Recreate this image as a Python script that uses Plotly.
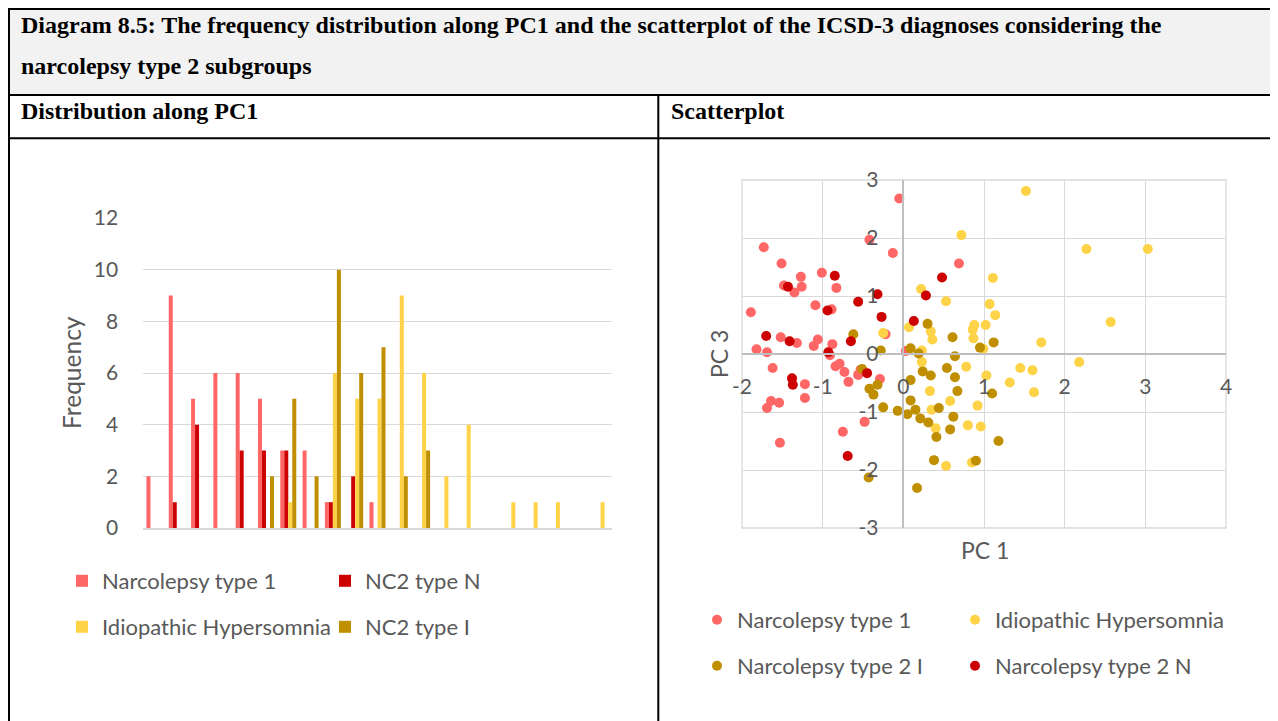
import plotly.graph_objects as go

# The page body has an 8px margin: draw in reference-pixel coordinates shifted by it.
OFF = 8
W, H = 1278 - OFF, 721 - OFF

# ---------------- Data ----------------
bins = [f"B{i}" for i in range(1, 22)]
freq_n1 = [2, 9, 5, 6, 6, 5, 3, 3, 1, 0, 1, 0, 0, 0, 0, 0, 0, 0, 0, 0, 0]
freq_nc2n = [0, 1, 4, 0, 3, 3, 3, 0, 1, 2, 0, 0, 0, 0, 0, 0, 0, 0, 0, 0, 0]
freq_ih = [0, 0, 0, 0, 0, 0, 1, 0, 6, 5, 5, 9, 6, 2, 4, 0, 1, 1, 1, 0, 1]
freq_nc2i = [0, 0, 0, 0, 0, 2, 5, 2, 10, 6, 7, 2, 3, 0, 0, 0, 0, 0, 0, 0, 0]
freq_ticks = [0, 2, 4, 6, 8, 10, 12]

n1_pc1 = [-0.05, -1.73, -0.42, -0.13, -1.51, 0.69, -1.01, -1.27, -1.48, -1.26, -1.35, -0.83,
          -1.89, -1.09, -0.89, -1.52, -1.32, -1.11, -1.06, -0.88, -1.82, -1.69, -0.22, 0.03,
          -0.91, -1.62, -1.22, -1.22, -1.54, -1.64, -1.69, -1.53, -0.84, -0.79, -0.73, -0.68,
          -0.56, -0.29, -0.48, -0.75, -0.53]
n1_pc3 = [2.68, 1.84, 1.97, 1.74, 1.56, 1.56, 1.40, 1.33, 1.18, 1.16, 1.06, 1.14,
          0.72, 0.84, 0.77, 0.29, 0.19, 0.14, 0.25, 0.17, 0.08, 0.03, 0.34, 0.05,
          -0.02, -0.24, -0.52, -0.76, -0.84, -0.81, -0.93, -1.53, -0.21, -0.17, -0.31, -0.48,
          -0.36, -0.43, -1.17, -1.34, -0.27]

ih_pc1 = [0.72, 0.22, 0.53, -0.25, 0.07, 0.34, 0.36, 0.88, 0.86, 0.87, 1.02, 0.23, 0.23,
          0.78, 0.99, 0.33, 0.58, 0.35, 0.92, 1.03, 0.40, 0.80, 0.96, 0.53, 0.85, 1.52,
          2.27, 3.03, 1.11, 1.07, 1.14, 2.57, 1.71, 2.18, 1.45, 1.60, 1.32, 1.62]
ih_pc3 = [2.05, 1.12, 0.91, 0.36, 0.46, 0.39, 0.25, 0.50, 0.42, 0.27, 0.50, 0.06, -0.14,
          -0.22, 0.09, -0.64, -0.81, -0.96, -0.89, -0.37, -1.28, -1.23, -1.25, -1.93, -1.87, 2.81,
          1.81, 1.81, 1.31, 0.86, 0.67, 0.55, 0.20, -0.14, -0.24, -0.28, -0.49, -0.66]

n2i_pc1 = [-0.62, -0.28, 0.30, 0.61, 0.09, 0.19, 0.64, 0.95, -0.51, -0.42, -0.32, -0.37,
           -0.25, -0.07, -0.43, 0.24, 0.34, 0.54, 0.64, 0.67, 0.09, 0.09, 0.15, 0.05,
           0.21, 0.31, 0.44, 0.62, 0.58, 0.41, 0.38, 0.90, 0.17, 1.12, 1.10, 1.18]
n2i_pc3 = [0.34, 0.06, 0.52, 0.29, 0.10, 0.01, -0.04, 0.11, -0.26, -0.60, -0.53, -0.70,
           -0.92, -0.98, -2.13, -0.30, -0.37, -0.24, -0.40, -0.64, -0.45, -0.80, -0.96, -1.04,
           -1.11, -1.18, -0.93, -1.08, -1.30, -1.43, -1.83, -1.84, -2.31, 0.20, -0.68, -1.50]

n2n_pc1 = [-0.85, -1.43, 0.48, 0.28, -0.32, -0.56, -0.94, -0.27, 0.13, -1.70, -1.41, -0.65,
           -0.93, -1.38, -1.37, -0.45, -0.69]
n2n_pc3 = [1.35, 1.16, 1.32, 1.01, 1.03, 0.90, 0.75, 0.64, 0.57, 0.31, 0.22, 0.22,
           0.03, -0.42, -0.53, -0.33, -1.76]

pc_ticks_x = [-2, -1, 0, 1, 2, 3, 4]
pc_ticks_y = [-3, -2, -1, 0, 1, 2, 3]

# ---------------- Style ----------------
C_N1 = "#FF6666"
C_N2N = "#CC0000"
C_IH = "#FFD347"
C_N2I = "#BF8F00"
GRID = "#D9D9D9"
TXT = "#595959"
FONT = "Lato"


def px(x):
    return (x - OFF) / W


def py(y):
    return 1 - (y - OFF) / H


fig = go.Figure()

# ---- bar chart ----
bar_series = [
    ("Narcolepsy type 1", freq_n1, C_N1, "legend"),
    ("NC2 type N", freq_nc2n, C_N2N, "legend2"),
    ("Idiopathic Hypersomnia", freq_ih, C_IH, "legend3"),
    ("NC2 type I", freq_nc2i, C_N2I, "legend4"),
]
for name, vals, col, leg in bar_series:
    fig.add_trace(go.Bar(x=bins, y=vals, name=name, marker=dict(color=col, line=dict(width=0)),
                         xaxis="x", yaxis="y", legend=leg))

# ---- scatter ----
sc_series = [
    ("Narcolepsy type 1", n1_pc1, n1_pc3, C_N1, "legend5"),
    ("Idiopathic Hypersomnia", ih_pc1, ih_pc3, C_IH, "legend6"),
    ("Narcolepsy type 2 I", n2i_pc1, n2i_pc3, C_N2I, "legend7"),
    ("Narcolepsy type 2 N", n2n_pc1, n2n_pc3, C_N2N, "legend8"),
]
for name, xs, ys, col, leg in sc_series:
    fig.add_trace(go.Scatter(x=xs, y=ys, mode="markers", name=name,
                             marker=dict(color=col, size=10, line=dict(width=0)),
                             xaxis="x2", yaxis="y2", legend=leg))

bar_dom_x = [px(143.3), px(611.7)]
bar_dom_y = [py(528), py(218)]
sc_dom_x = [px(742), px(1226)]
sc_dom_y = [py(528), py(180)]

tickfont = dict(family=FONT, size=21, color=TXT)
legfont = dict(family=FONT, size=22, color=TXT)

leg_common = dict(orientation="h", bgcolor="rgba(0,0,0,0)", borderwidth=0, font=legfont,
                  xanchor="left", yanchor="middle",
                  itemclick=False, itemdoubleclick=False)

legend_pos = {
    "legend": (62, 581), "legend2": (325, 581),
    "legend3": (62, 627), "legend4": (325, 627),
    "legend5": (697, 620), "legend6": (955, 620),
    "legend7": (697, 666), "legend8": (955, 666),
}
legends = {k: dict(x=px(x), y=py(y), **leg_common) for k, (x, y) in legend_pos.items()}

fig.update_layout(
    width=W, height=H, autosize=False,
    margin=dict(l=0, r=0, t=0, b=0, pad=0, autoexpand=False),
    paper_bgcolor="white", plot_bgcolor="rgba(0,0,0,0)",
    barmode="group", bargap=0.283, bargroupgap=0,
    font=dict(family=FONT, color=TXT),
    xaxis=dict(domain=bar_dom_x, anchor="y", type="category", range=[-0.5, 20.5],
               showticklabels=False, showgrid=False, ticks="", showline=True,
               linecolor=GRID, linewidth=1.5, zeroline=False, fixedrange=True,
               automargin=False),
    yaxis=dict(domain=bar_dom_y, anchor="x", range=[0, 12], tickvals=freq_ticks,
               showgrid=True, gridcolor=GRID, gridwidth=1.3, zeroline=False,
               showline=False, ticks="outside", ticklen=20, tickcolor="rgba(0,0,0,0)",
               tickfont=tickfont, fixedrange=True, automargin=False),
    xaxis2=dict(domain=sc_dom_x, anchor="free", position=py(354), range=[-2, 4],
                tickvals=pc_ticks_x, ticktext=[str(v) for v in pc_ticks_x],
                showgrid=True, gridcolor=GRID, gridwidth=1.3,
                zeroline=False, showline=True, linecolor="#BFBFBF", linewidth=1.5,
                ticks="outside", ticklen=14, tickcolor="rgba(0,0,0,0)",
                tickfont=tickfont, fixedrange=True, automargin=False),
    yaxis2=dict(domain=sc_dom_y, anchor="free", position=px(903.33), range=[-3, 3],
                tickvals=pc_ticks_y, ticktext=[str(v) for v in pc_ticks_y],
                showgrid=True, gridcolor=GRID, gridwidth=1.3,
                zeroline=False, showline=True, linecolor="#BFBFBF", linewidth=1.5,
                ticks="outside", ticklen=20, tickcolor="rgba(0,0,0,0)",
                tickfont=tickfont, fixedrange=True, automargin=False),
    showlegend=True,
    **legends,
)

# ---- table frame ----
shapes = []
shapes.append(dict(type="rect", xref="paper", yref="paper", x0=px(9), x1=px(1275), y0=py(95), y1=py(9),
                   fillcolor="#F2F2F2", line=dict(width=0), layer="below"))
line_style = dict(color="black", width=2)
for (x0, y0, x1, y1) in [
    (8, 9, 1276, 9),        # top
    (9, 8, 9, 730),         # left
    (1275, 8, 1275, 730),   # right
    (8, 95, 1276, 95),      # below header
    (8, 138.3, 1276, 138.3),  # below subheaders
    (658.3, 95, 658.3, 730),  # middle divider
]:
    shapes.append(dict(type="line", xref="paper", yref="paper", x0=px(x0), x1=px(x1),
                       y0=py(y0), y1=py(y1), line=line_style))
# scatter plot-area frame
shapes.append(dict(type="rect", xref="x2 domain", yref="y2 domain", x0=0, x1=1, y0=0, y1=1,
                   line=dict(color=GRID, width=1.3), layer="below"))
fig.update_layout(shapes=shapes)

serif = dict(family="Liberation Serif", size=24, color="black")
ann = [
    dict(text="<b>Diagram 8.5: The frequency distribution along PC1 and the scatterplot of the ICSD-3 diagnoses considering the</b>",
         x=px(19), y=py(25), xanchor="left", yanchor="middle", font=serif),
    dict(text="<b>narcolepsy type 2 subgroups</b>",
         x=px(19), y=py(66), xanchor="left", yanchor="middle", font=serif),
    dict(text="<b>Distribution along PC1</b>",
         x=px(19), y=py(111), xanchor="left", yanchor="middle", font=serif),
    dict(text="<b>Scatterplot</b>",
         x=px(669), y=py(111), xanchor="left", yanchor="middle", font=serif),
    dict(text="Frequency", x=px(71), y=py(373), textangle=-90, xanchor="center", yanchor="middle",
         font=dict(family=FONT, size=24.5, color=TXT)),
    dict(text="PC 3", x=px(719), y=py(354), textangle=-90, xanchor="center", yanchor="middle",
         font=dict(family=FONT, size=23, color=TXT)),
    dict(text="PC 1", x=px(984.5), y=py(550), xanchor="center", yanchor="middle",
         font=dict(family=FONT, size=23, color=TXT)),
]
for a in ann:
    a.update(xref="paper", yref="paper", showarrow=False)
fig.update_layout(annotations=ann)

fig.write_html("out.html", config={"displayModeBar": False})
